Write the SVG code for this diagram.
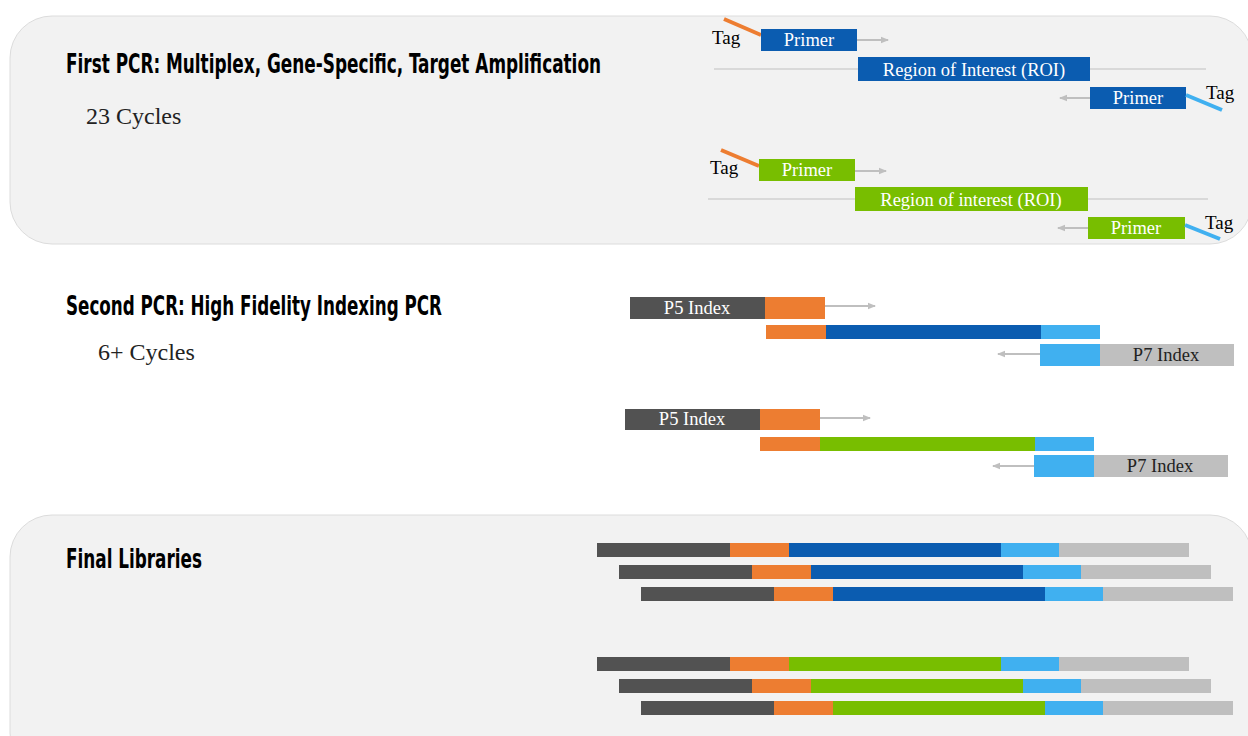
<svg xmlns="http://www.w3.org/2000/svg" width="1248" height="736" viewBox="0 0 1248 736">
<defs>
<marker id="ah" markerWidth="8" markerHeight="8" refX="7" refY="4" orient="auto" markerUnits="userSpaceOnUse">
<path d="M0,0.8 L8,4 L0,7.2 Z" fill="#bfbfbf"/>
</marker>
<style>
.panel{fill:#f2f2f2;stroke:#dcdcdc;stroke-width:1}
.title{font-family:"DejaVu Sans Condensed","Liberation Sans Narrow","Liberation Sans",sans-serif;font-weight:bold;font-size:27px;fill:#000}
.cyc{font-family:"Liberation Serif",serif;font-size:24px;fill:#222}
.lbl{font-family:"Liberation Serif",serif;font-size:18.5px;fill:#fff;text-anchor:middle}
.lbld{font-family:"Liberation Serif",serif;font-size:18.5px;fill:#222;text-anchor:middle}
.tag{font-family:"Liberation Serif",serif;font-size:19px;fill:#000}
.arr{stroke:#bfbfbf;stroke-width:2;fill:none;marker-end:url(#ah)}
.bl{fill:#0b5cb0}.gr{fill:#78be00}.or{fill:#ed7d31}.lb{fill:#40b0f0}.dg{fill:#525252}.lg{fill:#bfbfbf}
.tor{stroke:#ed7d31;stroke-width:4}.tlb{stroke:#40b0f0;stroke-width:4}
.ln{stroke:#d0d0d0;stroke-width:1.5}
</style>
</defs>
<rect class="panel" x="10" y="16" width="1242" height="228" rx="42"/>
<rect class="panel" x="10" y="515" width="1242" height="260" rx="42"/>

<g id="titles">
<text class="title" x="66" y="73" textLength="535" lengthAdjust="spacingAndGlyphs">First PCR: Multiplex, Gene-Specific, Target Amplification</text>
<text class="cyc" x="86" y="124">23 Cycles</text>
<text class="title" x="66" y="315" textLength="376" lengthAdjust="spacingAndGlyphs">Second PCR: High Fidelity Indexing PCR</text>
<text class="cyc" x="98" y="360">6+ Cycles</text>
<text class="title" x="66" y="568" textLength="136" lengthAdjust="spacingAndGlyphs">Final Libraries</text>
</g>

<g id="connectors">
<line class="ln" x1="714" y1="69" x2="1206" y2="69"/>
<line class="ln" x1="708" y1="199" x2="1208" y2="199"/>
<line class="arr" x1="857" y1="40" x2="888" y2="40"/>
<line class="arr" x1="1090" y1="98" x2="1060" y2="98"/>
<line class="arr" x1="855" y1="171" x2="886" y2="171"/>
<line class="arr" x1="1088" y1="228" x2="1058" y2="228"/>
<line class="arr" x1="825" y1="306" x2="875" y2="306"/>
<line class="arr" x1="1040" y1="354" x2="998" y2="354"/>
<line class="arr" x1="820" y1="418" x2="870" y2="418"/>
<line class="arr" x1="1034" y1="466" x2="993" y2="466"/>
</g>

<g id="blue-fwd-primer">
<line class="tor" x1="724" y1="19" x2="761" y2="35"/>
<text class="tag" x="712" y="44">Tag</text>
<rect class="bl" x="761" y="29" width="96" height="22"/>
<text class="lbl" x="809" y="46">Primer</text>
</g>
<g id="blue-roi">
<rect class="bl" x="858" y="57" width="232" height="24"/>
<text class="lbl" x="974" y="76">Region of Interest (ROI)</text>
</g>
<g id="blue-rev-primer">
<rect class="bl" x="1090" y="87" width="96" height="22"/>
<text class="lbl" x="1138" y="104">Primer</text>
<line class="tlb" x1="1186" y1="95" x2="1222" y2="110"/>
<text class="tag" x="1206" y="99">Tag</text>
</g>

<g id="green-fwd-primer">
<line class="tor" x1="721" y1="150" x2="759" y2="166"/>
<text class="tag" x="710" y="174">Tag</text>
<rect class="gr" x="759" y="159" width="96" height="22"/>
<text class="lbl" x="807" y="176">Primer</text>
</g>
<g id="green-roi">
<rect class="gr" x="855" y="187" width="233" height="24"/>
<text class="lbl" x="971" y="206">Region of interest (ROI)</text>
</g>
<g id="green-rev-primer">
<rect class="gr" x="1088" y="217" width="97" height="22"/>
<text class="lbl" x="1136" y="234">Primer</text>
<line class="tlb" x1="1185" y1="225" x2="1220" y2="239"/>
<text class="tag" x="1205" y="229">Tag</text>
</g>

<g id="blue-p5">
<rect class="dg" x="630" y="297" width="135" height="22"/>
<rect class="or" x="765" y="297" width="60" height="22"/>
<text class="lbl" x="697" y="314">P5 Index</text>
</g>
<g id="blue-template">
<rect class="or" x="766" y="325" width="60" height="14"/>
<rect class="bl" x="826" y="325" width="215" height="14"/>
<rect class="lb" x="1041" y="325" width="59" height="14"/>
</g>
<g id="blue-p7">
<rect class="lb" x="1040" y="344" width="60" height="22"/>
<rect class="lg" x="1100" y="344" width="134" height="22"/>
<text class="lbld" x="1166" y="361">P7 Index</text>
</g>

<g id="green-p5">
<rect class="dg" x="625" y="409" width="135" height="21"/>
<rect class="or" x="760" y="409" width="60" height="21"/>
<text class="lbl" x="692" y="425">P5 Index</text>
</g>
<g id="green-template">
<rect class="or" x="760" y="437" width="60" height="14"/>
<rect class="gr" x="820" y="437" width="215" height="14"/>
<rect class="lb" x="1035" y="437" width="59" height="14"/>
</g>
<g id="green-p7">
<rect class="lb" x="1034" y="455" width="60" height="22"/>
<rect class="lg" x="1094" y="455" width="134" height="22"/>
<text class="lbld" x="1160" y="472">P7 Index</text>
</g>

<g id="lib-blue-1">
<rect class="dg" x="597" y="543" width="133" height="14"/><rect class="or" x="730" y="543" width="59" height="14"/><rect class="bl" x="789" y="543" width="212" height="14"/><rect class="lb" x="1001" y="543" width="58" height="14"/><rect class="lg" x="1059" y="543" width="130" height="14"/>
</g>
<g id="lib-blue-2">
<rect class="dg" x="619" y="565" width="133" height="14"/><rect class="or" x="752" y="565" width="59" height="14"/><rect class="bl" x="811" y="565" width="212" height="14"/><rect class="lb" x="1023" y="565" width="58" height="14"/><rect class="lg" x="1081" y="565" width="130" height="14"/>
</g>
<g id="lib-blue-3">
<rect class="dg" x="641" y="587" width="133" height="14"/><rect class="or" x="774" y="587" width="59" height="14"/><rect class="bl" x="833" y="587" width="212" height="14"/><rect class="lb" x="1045" y="587" width="58" height="14"/><rect class="lg" x="1103" y="587" width="130" height="14"/>
</g>
<g id="lib-green-1">
<rect class="dg" x="597" y="657" width="133" height="14"/><rect class="or" x="730" y="657" width="59" height="14"/><rect class="gr" x="789" y="657" width="212" height="14"/><rect class="lb" x="1001" y="657" width="58" height="14"/><rect class="lg" x="1059" y="657" width="130" height="14"/>
</g>
<g id="lib-green-2">
<rect class="dg" x="619" y="679" width="133" height="14"/><rect class="or" x="752" y="679" width="59" height="14"/><rect class="gr" x="811" y="679" width="212" height="14"/><rect class="lb" x="1023" y="679" width="58" height="14"/><rect class="lg" x="1081" y="679" width="130" height="14"/>
</g>
<g id="lib-green-3">
<rect class="dg" x="641" y="701" width="133" height="14"/><rect class="or" x="774" y="701" width="59" height="14"/><rect class="gr" x="833" y="701" width="212" height="14"/><rect class="lb" x="1045" y="701" width="58" height="14"/><rect class="lg" x="1103" y="701" width="130" height="14"/>
</g>
</svg>
